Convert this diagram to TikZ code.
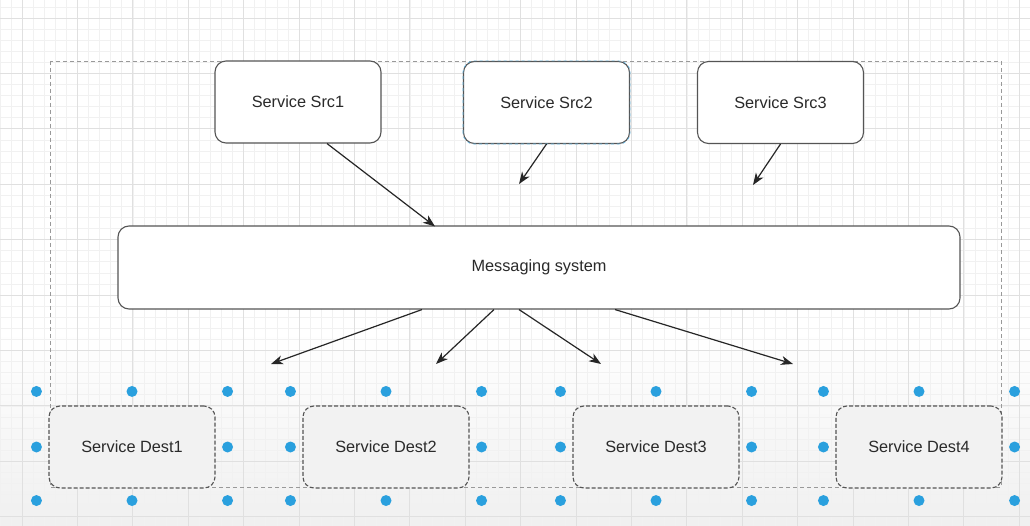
\documentclass[tikz,border=0pt]{standalone}
\usepackage{fontspec}
\setmainfont{Liberation Sans}
\usetikzlibrary{arrows.meta}
\definecolor{txt}{HTML}{2A2A2A}
\definecolor{edge}{HTML}{555555}
\definecolor{dotblue}{HTML}{2AA0DE}
\definecolor{minorg}{HTML}{F1F1F1}
\definecolor{majorg}{HTML}{E0E0E0}
\tikzset{
  svc/.style={draw=edge, line width=1.1pt, rounded corners=11pt, fill=white,
    minimum width=166pt, minimum height=82pt, inner sep=0pt,
    font=\fontsize{16.3}{19}\selectfont, text=txt},
  dest/.style={svc, fill=black!5, dash pattern=on 4pt off 2pt},
  bus/.style={svc, minimum width=842pt, minimum height=83pt},
  conn/.style={draw=black!85, line width=1.2pt, -{Stealth[length=12pt,width=9pt,inset=3.5pt]}},
  handle/.style={circle, fill=dotblue, minimum size=11pt, inner sep=0pt},
  minorgrid/.style={minorg, line width=0.6pt},
  majorgrid/.style={majorg, line width=0.8pt},
  group/.style={draw=black!40, line width=0.8pt, dash pattern=on 4pt off 3pt},
}
\begin{document}
\begin{tikzpicture}[x=1pt,y=-1pt]
\useasboundingbox (0,0) rectangle (1030,526);
\fill[white] (0,0) rectangle (1030,526);
\shade[top color=white, bottom color=black!6] (0,330) rectangle (1030,526);
% grid
\foreach \i in {0,...,93} \draw[minorgrid] ({-0.16+11.08*\i},0) -- ++(0,526);
\foreach \i in {0,...,48} \draw[minorgrid] (0,{-4.16+11.08*\i}) -- ++(1030,0);
\foreach \i in {0,...,18} \draw[majorgrid] ({22+55.4*\i},0) -- ++(0,526);
\foreach \i in {0,...,9} \draw[majorgrid] (0,{18+55.4*\i}) -- ++(1030,0);
% group selection
\draw[group] (50,61) rectangle (1001,487);
% sources
\node[svc] (src1) at (298,102) {Service Src1};
\node[svc] (src2) at (546.5,102.5) {Service Src2};
\node[svc] (src3) at (780.5,102.5) {Service Src3};
\draw[dotblue!70, line width=0.6pt, dash pattern=on 3pt off 3pt, rounded corners=11pt]
  (src2.south west) rectangle (src2.north east);
% bus
\node[bus] (bus) at (539,267.5) {Messaging system};
% destinations
\node[dest] (d1) at (132,447) {Service Dest1};
\node[dest] (d2) at (386,447) {Service Dest2};
\node[dest] (d3) at (656,447) {Service Dest3};
\node[dest] (d4) at (919,447) {Service Dest4};
% selection handles
\foreach \n in {d1,d2,d3,d4}{
  \node[handle] at ([xshift=-12pt,yshift=14pt]\n.north west) {};
  \node[handle] at ([yshift=14pt]\n.north) {};
  \node[handle] at ([xshift=12pt,yshift=14pt]\n.north east) {};
  \node[handle] at ([xshift=-12pt]\n.west) {};
  \node[handle] at ([xshift=12pt]\n.east) {};
  \node[handle] at ([xshift=-12pt,yshift=-12pt]\n.south west) {};
  \node[handle] at ([yshift=-12pt]\n.south) {};
  \node[handle] at ([xshift=12pt,yshift=-12pt]\n.south east) {};
}
% free arrow ends
\coordinate (e2) at (519,184);
\coordinate (e3) at (753,185);
\coordinate (f1) at (271,364);
\coordinate (f2) at (436,364);
\coordinate (f3) at (601,364);
\coordinate (f4) at (793,364);
% connectors
\draw[conn] ([xshift=29pt]src1.south) -- ([xshift=-104pt,yshift=-1pt]bus.north);
\draw[conn] (src2.south) -- (e2);
\draw[conn] (src3.south) -- (e3);
\draw[conn] ([xshift=-117pt]bus.south) -- (f1);
\draw[conn] ([xshift=-45pt]bus.south) -- (f2);
\draw[conn] ([xshift=-20pt]bus.south) -- (f3);
\draw[conn] ([xshift=76pt]bus.south) -- (f4);
\end{tikzpicture}
\end{document}
